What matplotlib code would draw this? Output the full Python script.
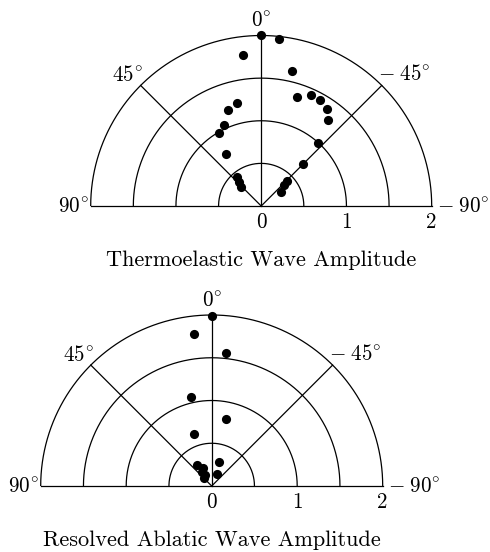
import numpy as np
import matplotlib
matplotlib.use("Agg")
import matplotlib.pyplot as plt

plt.rcParams['mathtext.fontset'] = 'cm'
plt.rcParams['font.family'] = 'cmr10'
plt.rcParams['axes.unicode_minus'] = False

# Angle from the surface normal in degrees (positive = left side), and amplitude
thermo_angle = [0, -6, 7, -13, -18, -24, -29, -34, -38, -42, -45, -45, -47, -54,
                13, 19, 24.5, 30, 34, 40.5, 43, 47]
thermo_amp = [2.01, 1.97, 1.79, 1.63, 1.35, 1.43, 1.42, 1.37, 1.28, 1.00, 0.69, 0.42, 0.36, 0.28,
              1.24, 1.19, 1.04, 0.99, 0.74, 0.44, 0.39, 0.33]

ablatic_angle = [0, 6.5, -6, 13, -12, 18.5, -16, -23, 34, 25, 35, 29, 47]
ablatic_amp = [1.99, 1.79, 1.57, 1.07, 0.80, 0.64, 0.29, 0.15, 0.30, 0.23, 0.20, 0.15, 0.13]

ring_radii = [0.5, 1.0, 1.5, 2.0]
ray_angles = [45, 0, -45]
radial_ticks = [0, 1, 2]
edge_angles = [90, -90]

R_MAX = 2.0
LW = 0.9
FS = 15.2
FS_TITLE = 16


def angle_label(a):
    if a < 0:
        return r'$-\;%d^{\circ}$' % abs(a)
    return r'$%d^{\circ}$' % a


def to_xy(angles, amps):
    a = np.radians(np.asarray(angles, dtype=float))
    r = np.asarray(amps, dtype=float)
    return -r * np.sin(a), r * np.cos(a)


def draw_panel(ax, angles, amps, title):
    th = np.linspace(-90, 90, 721)
    for r in ring_radii:
        x, y = to_xy(th, np.full_like(th, r))
        ax.plot(x, y, color='black', lw=LW, solid_capstyle='butt')
    ax.plot([-R_MAX, R_MAX], [0, 0], color='black', lw=LW)
    for a in ray_angles:
        x, y = to_xy([0, a], [0, R_MAX])
        ax.plot(x, y, color='black', lw=LW)

    x, y = to_xy(angles, amps)
    ax.plot(x, y, 'o', color='black', ms=6.6, mec='black', mew=0)

    # angle labels
    for a in ray_angles:
        ex, ey = to_xy([a], [R_MAX])
        if a == 0:
            ax.annotate(angle_label(a), (ex[0], ey[0]), xytext=(0, 9),
                        textcoords='offset pixels', ha='center', va='baseline', fontsize=FS)
        elif a > 0:
            ax.annotate(angle_label(a), (ex[0], ey[0]), xytext=(2.5, 4.5),
                        textcoords='offset pixels', ha='right', va='baseline', fontsize=FS)
        else:
            ax.annotate(angle_label(a), (ex[0], ey[0]), xytext=(-3.5, 5),
                        textcoords='offset pixels', ha='left', va='baseline', fontsize=FS)
    for a in edge_angles:
        ex, ey = to_xy([a], [R_MAX])
        if a > 0:
            ax.annotate(angle_label(a), (ex[0], 0), xytext=(-2, -6),
                        textcoords='offset pixels', ha='right', va='baseline', fontsize=FS)
        else:
            ax.annotate(angle_label(a), (ex[0], 0), xytext=(5, -6),
                        textcoords='offset pixels', ha='left', va='baseline', fontsize=FS)

    for t in radial_ticks:
        ax.annotate(str(t), (t, 0), xytext=(0, -22), textcoords='offset pixels',
                    ha='center', va='baseline', fontsize=FS)

    ax.annotate(title, (0, 0), xytext=(0, -60), textcoords='offset pixels',
                ha='center', va='baseline', fontsize=FS_TITLE)
    ax.set_axis_off()


fig = plt.figure(figsize=(4.9, 5.52), dpi=100)
W, H = 490.0, 552.0

# top panel: origin at (261.2, 206) px, 85.25 px per unit
s1 = 85.25
ax1 = fig.add_axes([0, 0.5, 1, 0.5])
ax1.set_xlim(-261.2 / s1, (W - 261.2) / s1)
ax1.set_ylim(-(276 - 206) / s1, 206 / s1)
draw_panel(ax1, thermo_angle, thermo_amp, 'Thermoelastic Wave Amplitude')

# bottom panel: origin at (211.7, 486) px, 85.5 px per unit
s2 = 85.5
ax2 = fig.add_axes([0, 0, 1, 0.5])
ax2.set_xlim(-211.7 / s2, (W - 211.7) / s2)
ax2.set_ylim(-(552 - 486) / s2, (486 - 276) / s2)
draw_panel(ax2, ablatic_angle, ablatic_amp, 'Resolved Ablatic Wave Amplitude')

fig.savefig('out.png', dpi=100, facecolor='white')
